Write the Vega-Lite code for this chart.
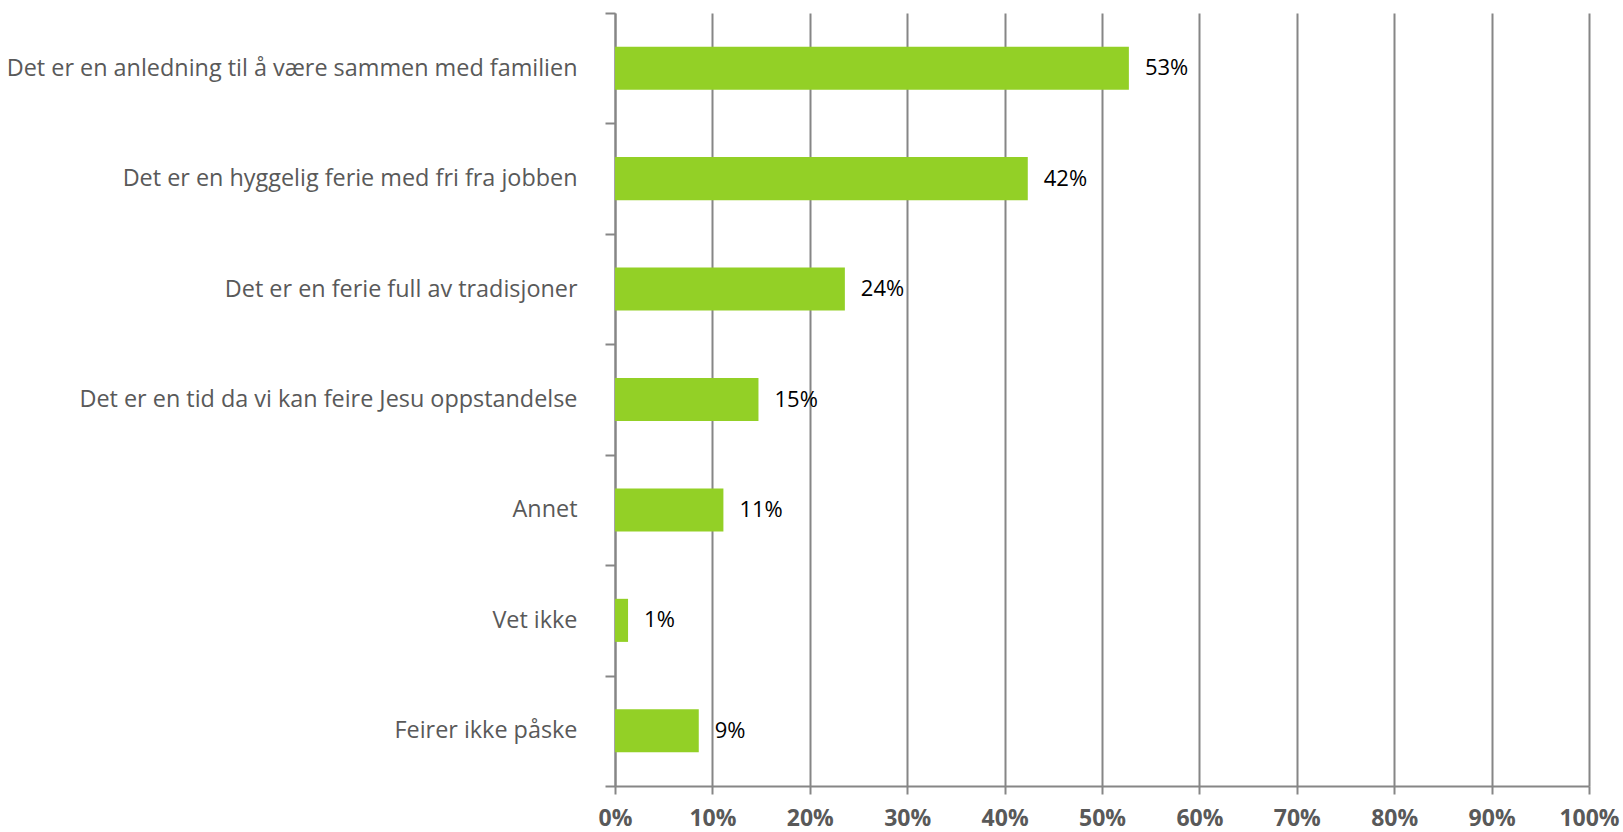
{
  "$schema": "https://vega.github.io/schema/vega-lite/v6.json",
  "autosize": "none",
  "padding": {"left": 615, "top": 13, "right": 34, "bottom": 46},
  "width": 974,
  "height": 773,
  "background": "white",
  "config": {"view": {"stroke": null}, "font": "Open Sans"},
  "data": {"values": [
    {"kategori": "Det er en anledning til å være sammen med familien", "andel": 0.5276},
    {"kategori": "Det er en hyggelig ferie med fri fra jobben", "andel": 0.4238},
    {"kategori": "Det er en ferie full av tradisjoner", "andel": 0.236},
    {"kategori": "Det er en tid da vi kan feire Jesu oppstandelse", "andel": 0.1473},
    {"kategori": "Annet", "andel": 0.1113},
    {"kategori": "Vet ikke", "andel": 0.0134},
    {"kategori": "Feirer ikke påske", "andel": 0.086}
  ]},
  "encoding": {
    "y": {
      "field": "kategori", "type": "nominal", "sort": null,
      "scale": {"paddingInner": 0, "paddingOuter": 0},
      "axis": {
        "title": null, "tickBand": "extent", "tickSize": 10, "tickWidth": 2, "tickColor": "#868686",
        "domainColor": "#868686", "domainWidth": 2, "labelPadding": 28,
        "labelFont": "Open Sans", "labelFontSize": 23.4, "labelColor": "#595959", "labelLimit": 700
      }
    },
    "x": {
      "field": "andel", "type": "quantitative",
      "scale": {"domain": [0, 1], "nice": false},
      "axis": {
        "title": null, "format": ".0%", "values": [0,0.1,0.2,0.3,0.4,0.5,0.6,0.7,0.8,0.9,1],
        "grid": true, "gridColor": "#868686", "gridWidth": 2,
        "domainColor": "#868686", "domainWidth": 2, "tickColor": "#868686", "tickWidth": 2, "tickSize": 8,
        "labelFont": "Open Sans", "labelFontSize": 23, "labelFontWeight": "bold", "labelColor": "#595959",
        "labelBaseline": "alphabetic", "labelPadding": 31, "labelFlush": false
      }
    }
  },
  "layer": [
    {"mark": {"type": "bar", "color": "#93D026", "height": {"band": 0.39}}},
    {
      "mark": {"type": "text", "align": "left", "baseline": "middle", "dx": 16, "font": "Open Sans", "fontSize": 22, "color": "#000000"},
      "encoding": {"text": {"field": "andel", "type": "quantitative", "format": ".0%"}}
    }
  ]
}
